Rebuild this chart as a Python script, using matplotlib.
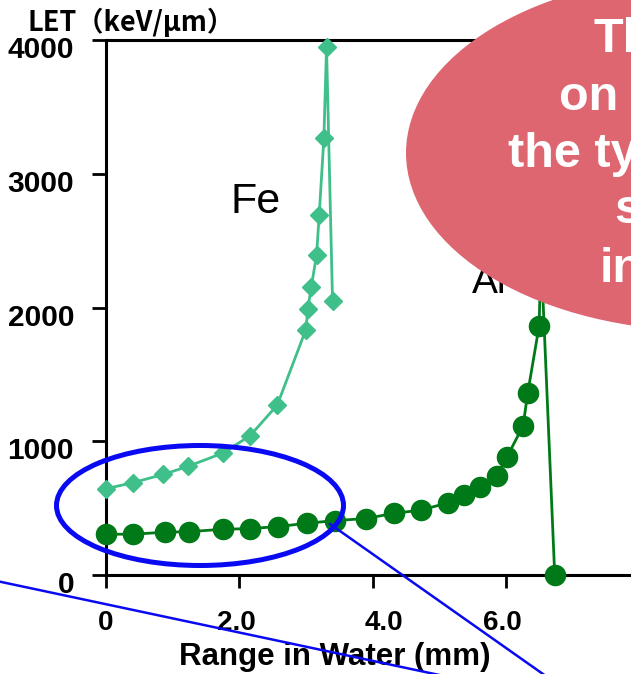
import matplotlib
matplotlib.use('Agg')
import matplotlib.pyplot as plt
import matplotlib.transforms as mtransforms
from matplotlib.patches import Ellipse

plt.rcParams['font.family'] = ['Liberation Sans', 'DejaVu Sans']

# Fe ion: range in water (mm) vs LET (keV/um)
fe_range = [0.0, 0.40, 0.86, 1.23, 1.75, 2.16, 2.57, 3.00, 3.03, 3.08, 3.16, 3.20, 3.27, 3.31, 3.40]
fe_let = [645, 690, 752, 812, 911, 1040, 1270, 1835, 1990, 2150, 2390, 2690, 3265, 3945, 2050]

# Ar ion
ar_range = [0.0, 0.41, 0.88, 1.24, 1.76, 2.16, 2.58, 3.02, 3.44, 3.90, 4.33, 4.73, 5.13,
            5.38, 5.61, 5.87, 6.02, 6.26, 6.33, 6.50, 6.53, 6.735]
ar_let = [305, 305, 320, 324, 342, 347, 362, 387, 407, 422, 462, 485, 540,
          598, 661, 740, 884, 1115, 1361, 1860, 2400, 0]

xticks = [0, 2, 4, 6]
xticklabels = ['0', '2.0', '4.0', '6.0']
yticks = [0, 1000, 2000, 3000, 4000]

fe_color = '#3FBF8A'
ar_color = '#007A18'

W, H = 631, 674
fig = plt.figure(figsize=(W / 100, H / 100), dpi=100)
ax = fig.add_axes([106 / W, (H - 575) / H, (639 - 106) / W, (575 - 40) / H])

ax.plot(fe_range, fe_let, color=fe_color, lw=2, marker='D', ms=9, clip_on=False, zorder=3)
ax.plot(ar_range, ar_let, color=ar_color, lw=2, marker='o', ms=14.5, clip_on=False, zorder=3)

ax.set_xlim(0, 8)
ax.set_ylim(0, 4000)
ax.set_xticks(xticks)
ax.set_xticklabels(xticklabels, fontsize=20, fontweight='bold')
ax.set_yticks(yticks)
ax.set_yticklabels([str(v) for v in yticks], fontsize=21.5, fontweight='bold')
for s in ax.spines.values():
    s.set_linewidth(2.2)
ax.tick_params(axis='y', direction='out', length=10, width=2, pad=13)
ax.tick_params(axis='x', direction='out', length=9, width=2, pad=16)

# y tick labels sit a bit below their ticks in the original
offset = mtransforms.ScaledTranslation(0, -0.07, fig.dpi_scale_trans)
for lab in ax.get_yticklabels():
    lab.set_transform(lab.get_transform() + offset)
# x tick labels are hand-placed text boxes in the original, slightly off their ticks
for lab, dx in zip(ax.get_xticklabels(), [0, -0.03, 0.11, -0.03]):
    lab.set_transform(lab.get_transform() + mtransforms.ScaledTranslation(dx, 0, fig.dpi_scale_trans))

ax.text(1.875, 2704, 'Fe', fontsize=31, ha='left', va='baseline')
ax.text(5.49, 2112, 'Ar', fontsize=28, ha='left', va='baseline')

fig.text(335 / W, 1 - 665 / H, 'Range in Water (mm)', ha='center', va='baseline',
         fontsize=22.5, fontweight='bold')
fig.text(27 / W, 1 - 31 / H, 'LET（keV/μm）', ha='left', va='baseline', fontsize=19.5,
         fontweight='bold', family=['Noto Sans CJK JP', 'DejaVu Sans'])

# overlay in pixel coordinates
ov = fig.add_axes([0, 0, 1, 1])
ov.set_zorder(10)
ov.set_xlim(0, W)
ov.set_ylim(H, 0)
ov.axis('off')

ov.add_patch(Ellipse((706, 153), 600, 356, facecolor='#DE6670', edgecolor='none'))
for txt, x, y in [('Th', 593, 52), ('on t', 559, 110), ('the ty', 508, 167),
                  ('s', 614, 223), ('in', 600, 282)]:
    ov.text(x, y, txt, color='white', fontsize=35, fontweight='bold', ha='left', va='baseline')

ov.add_patch(Ellipse((200, 505.5), 287, 120, fill=False, edgecolor='#0A0AF2', lw=3.6))
ov.plot([0, 460], [581.7, 679.4], color='#0A0AF2', lw=1.8)
ov.plot([330, 560], [524, 686], color='#0A0AF2', lw=1.8)

fig.savefig('out.png', dpi=100)
